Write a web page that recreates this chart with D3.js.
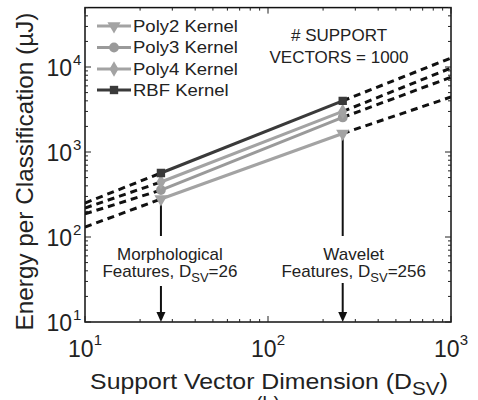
<!DOCTYPE html>
<html>
<head>
<meta charset="utf-8">
<script src="https://cdn.jsdelivr.net/npm/d3@7"></script>
<style>
  html, body { margin: 0; padding: 0; background: #fff; }
  svg { display: block; font-family: "Liberation Sans", Arial, Helvetica, sans-serif; }
</style>
</head>
<body>
<svg id="chart" width="478" height="400"></svg>
<script>
// Support-vector dimensions of the two feature sets
const dims = [26, 256];
const kernels = ["Poly2 Kernel", "Poly3 Kernel", "Poly4 Kernel", "RBF Kernel"];
// Energy per classification (µJ) at D_SV = 26 and 256
const energyPoly2 = [280, 1650];
const energyPoly3 = [357, 2550];
const energyPoly4 = [444, 3000];
const energyRBF = [566, 4000];
// Dashed trend extensions to the ends of the axis (D_SV = 10 and 1000)
const extDims = [10, 1000];
const extPoly2 = [131, 4440];
const extPoly3 = [187, 7590];
const extPoly4 = [219, 9730];
const extRBF = [251, 12770];
const xTicks = [10, 100, 1000];
const yTicks = [10, 100, 1000, 10000];

const series = [
  { name: kernels[0], vals: energyPoly2, ext: extPoly2, color: "#a3a3a3", symbol: "tri" },
  { name: kernels[1], vals: energyPoly3, ext: extPoly3, color: "#9a9a9a", symbol: "circle" },
  { name: kernels[2], vals: energyPoly4, ext: extPoly4, color: "#a3a3a3", symbol: "diamond" },
  { name: kernels[3], vals: energyRBF, ext: extRBF, color: "#3a3a3a", symbol: "square" }
];

const svg = d3.select("#chart");
const L = 85, R = 451, T = 7.6, B = 322;
const x = d3.scaleLog().domain([10, 1000]).range([L, R]);
const y = d3.scaleLog().domain([10, 50000]).range([B, T]);

// stretch a text horizontally about its anchor so it spans a given width
function fitWidth(t, ax, target) {
  const w = t.node().getBBox().width;
  t.attr("transform", `translate(${ax},0) scale(${target / w},1) translate(${-ax},0)`);
}

svg.append("defs").append("clipPath").attr("id", "plotclip")
  .append("rect").attr("x", L).attr("y", T).attr("width", R - L).attr("height", B - T);

const sym = {
  tri: d3.symbol().type(d3.symbolTriangle).size(75),
  circle: d3.symbol().type(d3.symbolCircle).size(75),
  diamond: d3.symbol().type(d3.symbolDiamond).size(70),
  square: d3.symbol().type(d3.symbolSquare).size(70)
};
function marker(g, s, cx, cy) {
  return g.append("path").attr("d", sym[s.symbol]()).attr("fill", s.color)
    .attr("transform", `translate(${cx},${cy})` + (s.symbol === "tri" ? " rotate(180)" : ""));
}

const plot = svg.append("g").attr("clip-path", "url(#plotclip)");

// dashed extensions
series.forEach(s => {
  plot.append("line")
    .attr("x1", x(extDims[0])).attr("y1", y(s.ext[0]))
    .attr("x2", x(dims[0])).attr("y2", y(s.vals[0]))
    .attr("stroke", "#111").attr("stroke-width", 3).attr("stroke-dasharray", "7,5");
  plot.append("line")
    .attr("x1", x(dims[1])).attr("y1", y(s.vals[1]))
    .attr("x2", x(extDims[1])).attr("y2", y(s.ext[1]))
    .attr("stroke", "#111").attr("stroke-width", 3).attr("stroke-dasharray", "7,5");
});

// arrows marking the two feature sets
const arrowSpec = [
  { top: 236, gapEnd: 286 },
  { top: 236, gapEnd: 283 }
];
dims.forEach((d, i) => {
  const cx = x(d);
  plot.append("line").attr("x1", cx).attr("x2", cx)
    .attr("y1", y(energyPoly2[i])).attr("y2", arrowSpec[i].top)
    .attr("stroke", "#111").attr("stroke-width", 2);
  plot.append("line").attr("x1", cx).attr("x2", cx)
    .attr("y1", arrowSpec[i].gapEnd).attr("y2", B - 8)
    .attr("stroke", "#111").attr("stroke-width", 2);
  plot.append("path")
    .attr("d", `M${cx - 4.5},${B - 10} L${cx + 4.5},${B - 10} L${cx},${B} Z`)
    .attr("fill", "#111");
});

// solid series lines and markers
series.forEach(s => {
  plot.append("path")
    .attr("d", d3.line().x((v, i) => x(dims[i])).y(v => y(v))(s.vals))
    .attr("fill", "none").attr("stroke", s.color).attr("stroke-width", 3);
});
series.forEach(s => {
  s.vals.forEach((v, i) => marker(plot, s, x(dims[i]), y(v)));
});

// axis box
svg.append("rect").attr("x", L).attr("y", T).attr("width", R - L).attr("height", B - T)
  .attr("fill", "none").attr("stroke", "#111").attr("stroke-width", 1.5);

// ticks (inside, on all four sides)
const g = svg.append("g").attr("stroke", "#222").attr("stroke-width", 1);
const xMinor = x.ticks().filter(t => !xTicks.includes(t));
const yMinor = y.ticks().filter(t => !yTicks.includes(t) && t <= 50000);
xTicks.forEach(t => {
  g.append("line").attr("x1", x(t)).attr("x2", x(t)).attr("y1", B).attr("y2", B - 6);
  g.append("line").attr("x1", x(t)).attr("x2", x(t)).attr("y1", T).attr("y2", T + 6);
});
xMinor.forEach(t => {
  g.append("line").attr("x1", x(t)).attr("x2", x(t)).attr("y1", B).attr("y2", B - 3);
  g.append("line").attr("x1", x(t)).attr("x2", x(t)).attr("y1", T).attr("y2", T + 3);
});
yTicks.forEach(t => {
  g.append("line").attr("x1", L).attr("x2", L + 6).attr("y1", y(t)).attr("y2", y(t));
  g.append("line").attr("x1", R).attr("x2", R - 6).attr("y1", y(t)).attr("y2", y(t));
});
yMinor.forEach(t => {
  g.append("line").attr("x1", L).attr("x2", L + 3).attr("y1", y(t)).attr("y2", y(t));
  g.append("line").attr("x1", R).attr("x2", R - 3).attr("y1", y(t)).attr("y2", y(t));
});

// tick labels 10^n
const exp = t => Math.round(Math.log10(t));
xTicks.forEach(t => {
  const tx = svg.append("text").attr("x", x(t)).attr("y", 357)
    .attr("text-anchor", "middle").attr("font-size", 23).attr("fill", "#222");
  tx.append("tspan").text("10");
  tx.append("tspan").attr("dy", -12).attr("font-size", 15).text(exp(t));
});
yTicks.forEach(t => {
  svg.append("text").attr("x", 72).attr("y", y(t) + 9)
    .attr("text-anchor", "end").attr("font-size", 23).attr("fill", "#222").text("10");
  svg.append("text").attr("x", 73).attr("y", y(t) - 2)
    .attr("font-size", 15).attr("fill", "#222").text(exp(t));
});

// axis titles
const xl = svg.append("text").attr("x", 269).attr("y", 389).attr("text-anchor", "middle")
  .attr("font-size", 21.5).attr("fill", "#222");
xl.append("tspan").text("Support Vector Dimension (D");
xl.append("tspan").attr("dy", 6).attr("font-size", 18).text("SV");
xl.append("tspan").attr("dy", -6).text(")");
fitWidth(xl, 269, 358);

svg.append("text").attr("transform", "translate(33,171.5) rotate(-90)")
  .attr("text-anchor", "middle").attr("font-size", 24.3).attr("fill", "#222")
  .text("Energy per Classification (µJ)");

// annotations
function annot(cx, lines) {
  lines.forEach(ln => {
    const t = svg.append("text").attr("x", cx).attr("y", ln.y).attr("text-anchor", "middle")
      .attr("font-size", 17).attr("fill", "#222");
    ln.parts.forEach(p => {
      const sp = t.append("tspan").text(p.t);
      if (p.sub) sp.attr("dy", 5).attr("font-size", 13);
      if (p.up) sp.attr("dy", -5);
    });
  });
}
annot(x(dims[0]) + 9, [
  { y: 260, parts: [{ t: "Morphological" }] },
  { y: 277, parts: [{ t: "Features, D" }, { t: "SV", sub: true }, { t: "=26", up: true }] }
]);
annot(x(dims[1]) + 11, [
  { y: 260, parts: [{ t: "Wavelet" }] },
  { y: 277, parts: [{ t: "Features, D" }, { t: "SV", sub: true }, { t: "=256", up: true }] }
]);
annot(339, [
  { y: 41, parts: [{ t: "# SUPPORT" }] },
  { y: 63, parts: [{ t: "VECTORS = 1000" }] }
]);

// legend
const leg = svg.append("g");
const rowY = [26, 47.5, 69, 90];
series.forEach((s, i) => {
  leg.append("line").attr("x1", 97).attr("x2", 131).attr("y1", rowY[i]).attr("y2", rowY[i])
    .attr("stroke", s.color).attr("stroke-width", 3);
  marker(leg, s, 114, rowY[i]);
  const lt = leg.append("text").attr("x", 133).attr("y", rowY[i] + 6).attr("font-size", 17)
    .attr("fill", "#222").text(s.name);
  if (i === 0) fitWidth(lt, 133, 105);
  else lt.attr("transform", leg.select("text").attr("transform"));
});

// panel tag
svg.append("text").attr("x", 268).attr("y", 411).attr("text-anchor", "middle")
  .attr("font-size", 20).attr("fill", "#222").text("(b)");
</script>
</body>
</html>
